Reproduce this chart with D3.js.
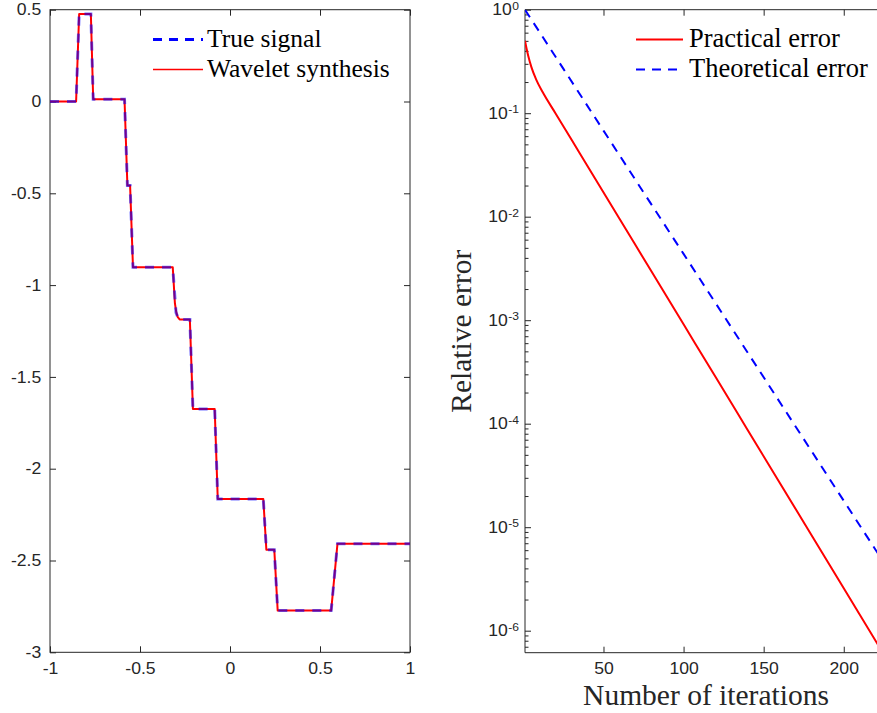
<!DOCTYPE html>
<html>
<head>
<meta charset="utf-8">
<script src="https://cdn.jsdelivr.net/npm/d3@7/dist/d3.min.js"></script>
<style>
  html, body { margin: 0; padding: 0; background: #fff; }
  svg { display: block; }
</style>
</head>
<body>
<script>
// ---------- Left panel data: true signal & wavelet synthesis ----------
const trueX = [-1, -0.855, -0.838, -0.773, -0.760, -0.586, -0.570, -0.555, -0.539, -0.318, -0.300, -0.285, -0.223, -0.206, -0.085, -0.068, 0.185, 0.202, 0.246, 0.265, 0.562, 0.597, 1];
const trueY = [0.0, 0.0, 0.477, 0.477, 0.012, 0.012, -0.458, -0.458, -0.903, -0.903, -1.150, -1.187, -1.187, -1.675, -1.675, -2.165, -2.165, -2.441, -2.441, -2.773, -2.773, -2.409, -2.409];
const synthX = [-1, -0.855, -0.838, -0.773, -0.760, -0.586, -0.570, -0.555, -0.539, -0.318, -0.306, -0.298, -0.290, -0.280, -0.223, -0.206, -0.085, -0.068, 0.185, 0.202, 0.246, 0.265, 0.562, 0.597, 1];
const synthY = [0.0, 0.0, 0.477, 0.477, 0.012, 0.012, -0.458, -0.458, -0.903, -0.903, -1.100, -1.150, -1.175, -1.187, -1.187, -1.675, -1.675, -2.165, -2.165, -2.441, -2.441, -2.773, -2.773, -2.409, -2.409];
const leftXTicks = [-1, -0.5, 0, 0.5, 1];
const leftYTicks = [0.5, 0, -0.5, -1, -1.5, -2, -2.5, -3];
const leftLegend = ["True signal", "Wavelet synthesis"];

// ---------- Right panel data: relative errors ----------
const practicalIter = [1, 2, 3, 5, 8, 12, 20, 30, 40, 60, 80, 100, 120, 140, 160, 180, 200, 227];
const practicalErr = [0.501, 0.419, 0.359, 0.279, 0.211, 0.160, 0.1, 0.0556, 0.0309, 0.00955, 0.00295, 9.12e-4, 2.82e-4, 8.71e-5, 2.69e-5, 8.32e-6, 2.57e-6, 5.25e-7];
const theoIter = [1, 25, 50, 75, 100, 125, 150, 175, 200, 227];
const theoErr = [1, 0.268, 0.0679, 0.0172, 0.00437, 0.00111, 2.81e-4, 7.11e-5, 1.80e-5, 4.09e-6];
const rightXTicks = [50, 100, 150, 200];
const rightYExps = [0, -1, -2, -3, -4, -5, -6];
const rightLegend = ["Practical error", "Theoretical error"];
const rightXLabel = "Number of iterations";
const rightYLabel = "Relative error";

const W = 877, H = 713;
const AX = "#262626";
const TICKFONT = "'Liberation Sans', Arial, sans-serif";
const SERIF = "'Liberation Serif', 'Times New Roman', serif";
const SX = 1.1; // horizontal stretch of tick labels

const svg = d3.select("body").append("svg").attr("width", W).attr("height", H);
svg.append("rect").attr("width", W).attr("height", H).attr("fill", "#fff");
const defs = svg.append("defs");

// ================= LEFT PANEL =================
const L = { x0: 50, x1: 410, y0: 9.7, y1: 652.3 };
const lx = d3.scaleLinear().domain([-1, 1]).range([L.x0, L.x1]);
const ly = d3.scaleLinear().domain([-3, 0.5]).range([L.y1, L.y0]);

defs.append("clipPath").attr("id", "clipL").append("rect")
  .attr("x", L.x0).attr("y", L.y0).attr("width", L.x1 - L.x0).attr("height", L.y1 - L.y0);

const gL = svg.append("g");
const fmt = d => String(d);

function styleAxis(g) {
  g.attr("font-size", null).attr("font-family", null);
  g.selectAll(".domain").remove();
  g.selectAll(".tick line").attr("stroke", AX).attr("stroke-width", 1);
  g.selectAll(".tick text").attr("fill", AX)
    .attr("font-family", TICKFONT).attr("font-size", 16)
    .style("font-family", TICKFONT).style("font-size", "16px")
    .attr("transform", `scale(${SX},1)`);
}

gL.append("g").attr("transform", `translate(0,${L.y1})`)
  .call(d3.axisBottom(lx).tickValues(leftXTicks).tickFormat(fmt).tickSizeInner(-6).tickSizeOuter(0).tickPadding(10))
  .call(styleAxis);
gL.append("g").attr("transform", `translate(0,${L.y0})`)
  .call(d3.axisTop(lx).tickValues(leftXTicks).tickFormat("").tickSizeInner(-6).tickSizeOuter(0))
  .call(styleAxis);
gL.append("g").attr("transform", `translate(${L.x0},0)`)
  .call(d3.axisLeft(ly).tickValues(leftYTicks).tickFormat(fmt).tickSizeInner(-6).tickSizeOuter(0).tickPadding(8))
  .call(styleAxis);
gL.append("g").attr("transform", `translate(${L.x1},0)`)
  .call(d3.axisRight(ly).tickValues(leftYTicks).tickFormat("").tickSizeInner(-6).tickSizeOuter(0))
  .call(styleAxis);
gL.append("rect").attr("x", L.x0).attr("y", L.y0).attr("width", L.x1 - L.x0).attr("height", L.y1 - L.y0)
  .attr("fill", "none").attr("stroke", AX).attr("stroke-width", 1);

const lineL = d3.line().x(d => lx(d[0])).y(d => ly(d[1]));
const plotL = gL.append("g").attr("clip-path", "url(#clipL)");
plotL.append("path").datum(synthX.map((x, i) => [x, synthY[i]]))
  .attr("d", lineL).attr("fill", "none").attr("stroke", "#ff0000").attr("stroke-width", 2)
  .attr("stroke-linejoin", "round");
plotL.append("path").datum(trueX.map((x, i) => [x, trueY[i]]))
  .attr("d", lineL).attr("fill", "none").attr("stroke", "#0000ff").attr("stroke-width", 3)
  .attr("stroke-opacity", 0.55).attr("stroke-dasharray", "9,8");

// legend left
const legL = gL.append("g");
legL.append("line").attr("x1", 153).attr("x2", 203).attr("y1", 39.5).attr("y2", 39.5)
  .attr("stroke", "#0000ff").attr("stroke-width", 3).attr("stroke-dasharray", "9,7");
legL.append("line").attr("x1", 153).attr("x2", 203).attr("y1", 69.5).attr("y2", 69.5)
  .attr("stroke", "#ff0000").attr("stroke-width", 1.5);
legL.selectAll("text").data(leftLegend).join("text")
  .attr("x", 207).attr("y", (d, i) => 47 + i * 30)
  .style("font-family", SERIF).style("font-size", "25.5px").attr("fill", "#000")
  .text(d => d);

// ================= RIGHT PANEL =================
const R = { x0: 525, x1: 887, y0: 9.7, y1: 652.7 };
const rx = d3.scaleLinear().domain([1, 227]).range([R.x0, R.x1]);
const ry = d3.scaleLog().domain([6.13e-7, 1]).range([R.y1, R.y0]);

defs.append("clipPath").attr("id", "clipR").append("rect")
  .attr("x", R.x0).attr("y", R.y0).attr("width", R.x1 - R.x0).attr("height", R.y1 - R.y0);

const gR = svg.append("g");
gR.append("g").attr("transform", `translate(0,${R.y1})`)
  .call(d3.axisBottom(rx).tickValues(rightXTicks).tickFormat(fmt).tickSizeInner(-6).tickSizeOuter(0).tickPadding(10))
  .call(styleAxis);
gR.append("g").attr("transform", `translate(0,${R.y0})`)
  .call(d3.axisTop(rx).tickValues(rightXTicks).tickFormat("").tickSizeInner(-6).tickSizeOuter(0))
  .call(styleAxis);

// log ticks: major & minor
const majors = rightYExps.map(e => Math.pow(10, e));
const minors = [];
rightYExps.concat([-7]).forEach(e => {
  for (let m = 2; m <= 9; m++) {
    const v = m * Math.pow(10, e);
    if (v >= 6.13e-7 && v < 1) minors.push(v);
  }
});
gR.append("g").attr("transform", `translate(${R.x0},0)`)
  .call(d3.axisLeft(ry).tickValues(majors).tickFormat("").tickSizeInner(-6).tickSizeOuter(0))
  .call(styleAxis);
gR.append("g").attr("transform", `translate(${R.x0},0)`)
  .call(d3.axisLeft(ry).tickValues(minors).tickFormat("").tickSizeInner(-3.5).tickSizeOuter(0))
  .call(styleAxis);

// superscript tick labels
const ylab = gR.append("g").selectAll("g").data(rightYExps).join("g")
  .attr("transform", e => `translate(519,${ry(Math.pow(10, e))}) scale(${SX},1)`)
  .append("text")
  .attr("dy", "0.35em").attr("text-anchor", "end")
  .style("font-family", TICKFONT).attr("fill", AX);
ylab.append("tspan").style("font-size", "16px").text("10");
ylab.append("tspan").style("font-size", "11px").attr("dy", -5.5).attr("dx", 0.5).text(e => String(e));

// frame lines
gR.append("line").attr("x1", R.x0).attr("x2", R.x0).attr("y1", R.y0).attr("y2", R.y1).attr("stroke", AX);
gR.append("line").attr("x1", R.x0).attr("x2", R.x1).attr("y1", R.y0).attr("y2", R.y0).attr("stroke", AX);
gR.append("line").attr("x1", R.x0).attr("x2", R.x1).attr("y1", R.y1).attr("y2", R.y1).attr("stroke", AX);
gR.append("line").attr("x1", R.x1).attr("x2", R.x1).attr("y1", R.y0).attr("y2", R.y1).attr("stroke", AX);

const lineR = d3.line().x(d => rx(d[0])).y(d => ry(d[1])).curve(d3.curveMonotoneX);
const plotR = gR.append("g").attr("clip-path", "url(#clipR)");
plotR.append("path").datum(practicalIter.map((x, i) => [x, practicalErr[i]]))
  .attr("d", lineR).attr("fill", "none").attr("stroke", "#ff0000").attr("stroke-width", 2);
plotR.append("path").datum(theoIter.map((x, i) => [x, theoErr[i]]))
  .attr("d", d3.line().x(d => rx(d[0])).y(d => ry(d[1])))
  .attr("fill", "none").attr("stroke", "#0000ff").attr("stroke-width", 2).attr("stroke-dasharray", "9,7");

// legend right
const legR = gR.append("g");
legR.append("line").attr("x1", 636).attr("x2", 683).attr("y1", 39.5).attr("y2", 39.5)
  .attr("stroke", "#ff0000").attr("stroke-width", 2);
legR.append("line").attr("x1", 636).attr("x2", 683).attr("y1", 69.5).attr("y2", 69.5)
  .attr("stroke", "#0000ff").attr("stroke-width", 2).attr("stroke-dasharray", "9,7");
legR.selectAll("text").data(rightLegend).join("text")
  .attr("x", 689).attr("y", (d, i) => 47 + i * 30)
  .style("font-family", SERIF).style("font-size", "26.5px").attr("fill", "#000")
  .text(d => d);

// axis labels
gR.append("text").attr("x", (R.x0 + R.x1) / 2).attr("y", 705).attr("text-anchor", "middle")
  .style("font-family", SERIF).style("font-size", "29.5px").attr("fill", AX).text(rightXLabel);
gR.append("text").attr("transform", `translate(471,${(R.y0 + R.y1) / 2}) rotate(-90)`)
  .attr("text-anchor", "middle")
  .style("font-family", SERIF).style("font-size", "29.5px").attr("fill", AX).text(rightYLabel);
</script>
</body>
</html>
